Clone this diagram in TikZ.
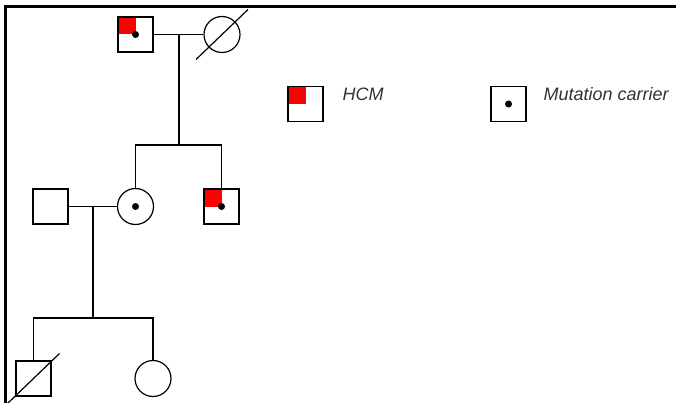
\documentclass[tikz,border=0pt]{standalone}
\usepackage{fontspec}
\setsansfont{Liberation Sans}
\tikzset{
	male/.style={draw,rectangle,minimum size=35pt,inner sep=0pt},
	female/.style={draw,circle,minimum size=36pt,inner sep=0pt},
	hcm/.style={path picture={\fill[red] (path picture bounding box.north west) rectangle (path picture bounding box.center);}},
	legendtext/.style={font=\sffamily\itshape\fontsize{18}{20}\selectfont,text=black!80,anchor=base west,inner sep=0pt}
}
\newcommand\carrierdot[1]{\fill (#1.center) circle (3.5pt);}
\newcommand\deceased[1]{\draw ([shift={(-26,25)}]#1.center) -- ([shift={(26,-25)}]#1.center);}
\begin{document}
\begin{tikzpicture}[x=1pt,y=-1pt,line width=1.2pt]
		\useasboundingbox (0,0) rectangle (676,403);
		\draw[line width=3pt] (5.5,403) -- (5.5,6.5) -- (676,6.5);
		% first generation
		\node[male,hcm] (gf) at (135.5,34.5) {};
		\node[female] (gm) at (222,34.5) {};
		\carrierdot{gf}
		\deceased{gm}
		\draw (gf) -- (gm);
		\coordinate (m1) at (179,34.5);
		\coordinate (s1) at (179,145);
		% second generation
		\node[male] (fa) at (50.5,206.5) {};
		\node[female] (mo) at (135.5,206.5) {};
		\node[male,hcm] (un) at (221.5,206.5) {};
		\carrierdot{mo}
		\carrierdot{un}
		\draw (m1) -- (s1);
		\draw (mo) |- (s1) -| (un);
		\draw (fa) -- (mo);
		\coordinate (m2) at (93,206.5);
		\coordinate (s2) at (93,318);
		% third generation
		\node[male] (so) at (33.5,378.5) {};
		\node[female] (da) at (153,378.5) {};
		\deceased{so}
		\draw (m2) -- (s2);
		\draw (so) |- (s2) -| (da);
		% legend
		\node[male,hcm] (lg1) at (305.5,104) {};
		\node[legendtext] (t1) at (342,101) {HCM};
		\node[male] (lg2) at (508.5,104) {};
		\carrierdot{lg2}
		\node[legendtext] (t2) at (543,101) {Mutation carrier};
	\end{tikzpicture}
\end{document}
